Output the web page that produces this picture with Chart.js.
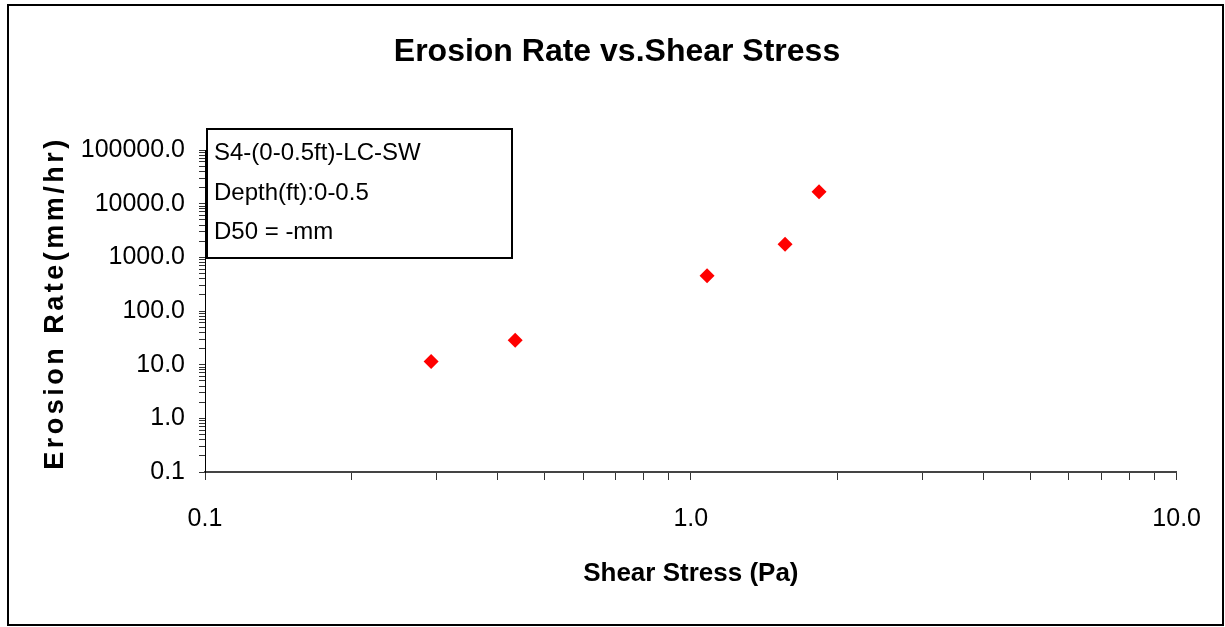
<!DOCTYPE html>
<html>
<head>
<meta charset="utf-8">
<title>Erosion Rate vs. Shear Stress</title>
<script src="https://cdn.jsdelivr.net/npm/chart.js@4/dist/chart.umd.min.js"></script>
<style>
    body { margin: 0; background: #fff; }
    canvas { display: block; }
</style>
</head>
<body>
<canvas id="grafica-erosion" width="1225" height="627"></canvas>
<script>
// datos
const shearStress = [0.292, 0.435, 1.08, 1.563, 1.836];
const erosionRate = [11.4, 28.4, 455, 1750, 16700];

const xTickValues = [0.1, 1, 10];
const xTickLabels = ['0.1', '1.0', '10.0'];
const yTickValues = [0.1, 1, 10, 100, 1000, 10000, 100000];
const yTickLabels = ['0.1', '1.0', '10.0', '100.0', '1000.0', '10000.0', '100000.0'];

const noteLines = ['S4-(0-0.5ft)-LC-SW', 'Depth(ft):0-0.5', 'D50 = -mm'];

const fontFamily = '"Liberation Sans", Arial, sans-serif';

// ticks menores 1..9 por decada, como en Excel
function logTicks(min, max) {
    const ticks = [];
    for (let e = Math.round(Math.log10(min)); e < Math.round(Math.log10(max)); e++) {
        for (let d = 1; d <= 9; d++) {
            ticks.push({ value: d * Math.pow(10, e) });
        }
    }
    ticks.push({ value: max });
    return ticks;
}

function labelFor(values, labels, value) {
    for (let i = 0; i < values.length; i++) {
        if (Math.abs(Math.log10(value) - Math.log10(values[i])) < 1e-6) return labels[i];
    }
    return '';
}

// marco exterior, titulo del eje y, y el cuadro de texto
const extras = {
    id: 'extras',
    beforeDraw(chart) {
        const ctx = chart.ctx;
        ctx.save();
        ctx.fillStyle = '#fff';
        ctx.fillRect(0, 0, chart.width, chart.height);
        ctx.restore();
    },
    afterDraw(chart) {
        const ctx = chart.ctx;
        ctx.save();
        // marco
        ctx.strokeStyle = '#000';
        ctx.lineWidth = 2;
        ctx.strokeRect(8, 5, 1215, 620);

        // titulo eje y
        ctx.save();
        ctx.translate(56, 303);
        ctx.rotate(-Math.PI / 2);
        ctx.font = 'bold 27px ' + fontFamily;
        ctx.letterSpacing = '3.5px';
        ctx.fillStyle = '#000';
        ctx.textAlign = 'center';
        ctx.textBaseline = 'middle';
        ctx.fillText('Erosion Rate(mm/hr)', 0, 0);
        ctx.restore();

        // cuadro de texto
        ctx.fillStyle = '#fff';
        ctx.fillRect(207, 129, 305, 129);
        ctx.strokeStyle = '#000';
        ctx.lineWidth = 2;
        ctx.strokeRect(207, 129, 305, 129);
        ctx.fillStyle = '#000';
        ctx.font = '24px ' + fontFamily;
        ctx.textAlign = 'left';
        ctx.textBaseline = 'alphabetic';
        noteLines.forEach((line, i) => {
            ctx.fillText(line, 214, 160 + i * 39.5);
        });
        ctx.restore();
    }
};

const canvas = document.getElementById('grafica-erosion');

const chart = new Chart(canvas, {
    type: 'scatter',
    data: {
        datasets: [{
            label: 'S4-(0-0.5ft)-LC-SW',
            data: shearStress.map((x, i) => ({ x: x, y: erosionRate[i] })),
            pointStyle: 'rectRot',
            pointRadius: 7.5,
            pointHoverRadius: 7.5,
            backgroundColor: '#ff0000',
            borderColor: '#ff0000',
            borderWidth: 0
        }]
    },
    options: {
        responsive: false,
        animation: false,
        events: [],
        layout: {
            padding: { left: 56, right: 47, top: 0, bottom: 0 }
        },
        plugins: {
            legend: { display: false },
            tooltip: { enabled: false },
            title: {
                display: true,
                text: 'Erosion Rate vs.Shear Stress',
                color: '#000',
                font: { family: fontFamily, size: 32, weight: 'bold', lineHeight: 1.2 },
                padding: { top: 33, bottom: 78.6 }
            }
        },
        scales: {
            x: {
                type: 'logarithmic',
                min: 0.1,
                max: 10,
                afterBuildTicks: (axis) => { axis.ticks = logTicks(0.1, 10); },
                afterFit: (axis) => { axis.height = 155; },
                border: { display: true, color: '#444', width: 2 },
                grid: {
                    display: true,
                    drawOnChartArea: false,
                    drawTicks: true,
                    tickLength: 8,
                    tickColor: '#333',
                    tickWidth: 1
                },
                ticks: {
                    autoSkip: false,
                    maxRotation: 0,
                    padding: 24,
                    color: '#000',
                    font: { family: fontFamily, size: 25 },
                    callback: (value) => labelFor(xTickValues, xTickLabels, value)
                },
                title: {
                    display: true,
                    text: 'Shear Stress (Pa)',
                    color: '#000',
                    font: { family: fontFamily, size: 26, weight: 'bold', lineHeight: 1.2 },
                    padding: { top: 0, bottom: 38 }
                }
            },
            y: {
                type: 'logarithmic',
                min: 0.1,
                max: 100000,
                afterBuildTicks: (axis) => { axis.ticks = logTicks(0.1, 100000); },
                afterFit: (axis) => { axis.width = 149; },
                border: { display: true, color: '#000', width: 1 },
                grid: {
                    display: true,
                    drawOnChartArea: false,
                    drawTicks: true,
                    tickLength: 6,
                    tickColor: '#333',
                    tickWidth: 1
                },
                ticks: {
                    autoSkip: false,
                    padding: 14,
                    color: '#000',
                    font: { family: fontFamily, size: 25 },
                    callback: (value) => labelFor(yTickValues, yTickLabels, value)
                },
                title: { display: false }
            }
        }
    },
    plugins: [extras]
});
</script>
</body>
</html>
